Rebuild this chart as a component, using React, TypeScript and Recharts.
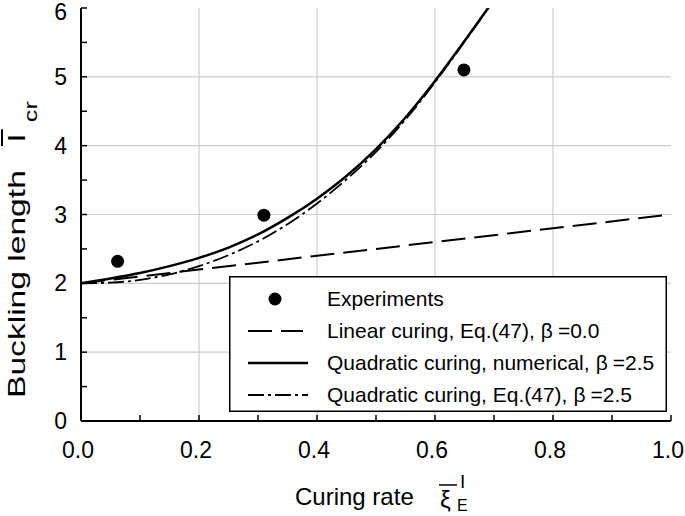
import React from 'react';
import {
  ComposedChart,
  Line,
  Scatter,
  XAxis,
  YAxis,
  CartesianGrid,
  Legend,
} from 'recharts';

// curing rate samples for the two quadratic curves
const curingRate = [0, 0.05, 0.1, 0.15, 0.2, 0.25, 0.3, 0.35, 0.4, 0.45, 0.5, 0.55, 0.6, 0.65, 0.7];
const quadNumerical = [2.0, 2.07, 2.15, 2.25, 2.37, 2.52, 2.71, 2.95, 3.23, 3.56, 3.95, 4.41, 4.94, 5.52, 6.12];
const quadEq47 = [2.0, 2.01, 2.05, 2.13, 2.25, 2.41, 2.61, 2.86, 3.16, 3.51, 3.91, 4.38, 4.92, 5.51, 6.12];

const linearX = [0, 1];
const linearY = [2, 3];

const expX = [0.062, 0.31, 0.649];
const expY = [2.32, 2.99, 5.1];

const xTicks = [0, 0.1, 0.2, 0.3, 0.4, 0.5, 0.6, 0.7, 0.8, 0.9, 1.0];
const xMajor = [0.2, 0.4, 0.6, 0.8];
const yTicks = [0, 0.5, 1, 1.5, 2, 2.5, 3, 3.5, 4, 4.5, 5, 5.5, 6];
const yMajor = [1, 2, 3, 4, 5];

const legendItems = [
  { kind: 'dot', label: 'Experiments', beta: '' },
  { kind: 'dash', label: 'Linear curing, Eq.(47),', beta: '0.0' },
  { kind: 'solid', label: 'Quadratic curing, numerical,', beta: '2.5' },
  { kind: 'dashdot', label: 'Quadratic curing, Eq.(47),', beta: '2.5' },
];

const FONT = '"Liberation Sans", Arial, sans-serif';
const DASH = '24 9';
const DASHDOT = '16 4 3 4';

const numData = curingRate.map((x, i) => ({ x, y: quadNumerical[i] }));
const eqData = curingRate.map((x, i) => ({ x, y: quadEq47[i] }));
const linData = linearX.map((x, i) => ({ x, y: linearY[i] }));
const expData = expX.map((x, i) => ({ x, y: expY[i] }));

const isMajor = (v: number, step: number) => Math.abs(v / step - Math.round(v / step)) < 1e-6;

const BottomTick = (p: any) => {
  const { x, y, payload } = p;
  const v = payload.value as number;
  return (
    <g>
      <line x1={x} x2={x} y1={y} y2={y - 6} stroke="#000" strokeWidth={1.5} />
      {isMajor(v, 0.2) && (
        <text x={x - 3} y={y + 37} textAnchor="middle" fontSize={23} fontFamily={FONT} fill="#000">
          {v.toFixed(1)}
        </text>
      )}
    </g>
  );
};

const TopTick = (p: any) => {
  const { x, y } = p;
  return <line x1={x} x2={x} y1={y} y2={y + 6} stroke="#000" strokeWidth={1.5} />;
};

const LeftTick = (p: any) => {
  const { x, y, payload } = p;
  const v = payload.value as number;
  return (
    <g>
      <line x1={x} x2={x + 6} y1={y} y2={y} stroke="#000" strokeWidth={1.5} />
      {isMajor(v, 1) && (
        <text x={x - 14} y={Math.max(y + 8, 20)} textAnchor="end" fontSize={23} fontFamily={FONT} fill="#000">
          {v}
        </text>
      )}
    </g>
  );
};

const RightTick = (p: any) => {
  const { x, y } = p;
  return <line x1={x} x2={x - 6} y1={y} y2={y} stroke="#000" strokeWidth={1.5} />;
};

const XTitle = (p: any) => {
  const { viewBox } = p;
  const cx = viewBox.x + viewBox.width / 2;
  return (
    <g fontFamily={FONT} fill="#000">
      <text x={cx - 81} y={505} fontSize={24}>Curing rate</text>
      <text x={cx + 64} y={508} fontSize={24}>ξ</text>
      <line x1={cx + 63} x2={cx + 81} y1={485} y2={485} stroke="#000" strokeWidth={1.5} />
      <text x={cx + 84} y={488} fontSize={19}>I</text>
      <text x={cx + 81} y={511} fontSize={16}>E</text>
    </g>
  );
};

const YTitle = () => (
  <g transform="translate(25, 398) rotate(-90) scale(1.4, 1)" fontFamily={FONT} fill="#000">
    <text x={0} y={0} fontSize={24}>Buckling length</text>
    <text x={183} y={0} fontSize={24}>l</text>
    <line x1={180} x2={192} y1={-23} y2={-23} stroke="#000" strokeWidth={2} />
    <text x={197} y={12} fontSize={18}>cr</text>
  </g>
);

const LegendBox = () => (
  <svg width={438} height={136} style={{ display: 'block' }}>
    <rect x={0.75} y={0.75} width={436.5} height={134.5} fill="#fff" stroke="#000" strokeWidth={1.5} />
    {legendItems.map((it, i) => {
      const cy = 23 + i * 32;
      const x0 = 19;
      const x1 = 79;
      return (
        <g key={it.kind}>
          {it.kind === 'dot' && <circle cx={46} cy={cy} r={6.5} fill="#000" />}
          {it.kind === 'dash' && (
            <line x1={x0} x2={x1 - 5} y1={cy} y2={cy} stroke="#000" strokeWidth={2} strokeDasharray={DASH} />
          )}
          {it.kind === 'solid' && <line x1={x0} x2={x1} y1={cy} y2={cy} stroke="#000" strokeWidth={2.5} />}
          {it.kind === 'dashdot' && (
            <line x1={x0} x2={x1} y1={cy} y2={cy} stroke="#000" strokeWidth={1.8} strokeDasharray={DASHDOT} />
          )}
          <text x={98} y={cy + 7} fontSize={21} fontFamily={FONT} fill="#000">
            {it.label}
            {it.beta && (
              <>
                <tspan dx={6}>β</tspan>
                <tspan dx={5}>=</tspan>
                <tspan>{it.beta}</tspan>
              </>
            )}
          </text>
        </g>
      );
    })}
  </svg>
);

export default function App() {
  return (
    <div style={{ position: 'absolute', left: 0, top: 0, background: '#fff' }}>
      <ComposedChart width={685} height={516} margin={{ top: 8, right: 14, left: 31, bottom: 65 }}>
        <CartesianGrid
          stroke="#cccccc"
          strokeWidth={1.2}
          verticalValues={xMajor}
          horizontalValues={yMajor}
        />
        <XAxis
          type="number"
          dataKey="x"
          domain={[0, 1]}
          ticks={xTicks}
          interval={0}
          allowDataOverflow
          height={30}
          tickSize={0}
          tickMargin={0}
          tickLine={false}
          axisLine={{ stroke: '#000', strokeWidth: 2 }}
          tick={<BottomTick />}
          label={<XTitle />}
        />
        <XAxis
          xAxisId="top"
          orientation="top"
          type="number"
          dataKey="x"
          domain={[0, 1]}
          ticks={xTicks}
          interval={0}
          allowDataOverflow
          height={0}
          tickSize={0}
          tickMargin={0}
          tickLine={false}
          axisLine={{ stroke: '#000', strokeWidth: 2 }}
          tick={<TopTick />}
        />
        <YAxis
          type="number"
          domain={[0, 6]}
          ticks={yTicks}
          interval={0}
          allowDataOverflow
          width={50}
          tickSize={0}
          tickMargin={0}
          tickLine={false}
          axisLine={{ stroke: '#000', strokeWidth: 2 }}
          tick={<LeftTick />}
          label={<YTitle />}
        />
        <YAxis
          yAxisId="right"
          orientation="right"
          type="number"
          domain={[0, 6]}
          ticks={yTicks}
          interval={0}
          allowDataOverflow
          width={0}
          tickSize={0}
          tickMargin={0}
          tickLine={false}
          axisLine={{ stroke: '#000', strokeWidth: 2 }}
          tick={<RightTick />}
        />
        <Line
          data={linData}
          dataKey="y"
          type="linear"
          stroke="#000"
          strokeWidth={2}
          strokeDasharray={DASH}
          dot={false}
          activeDot={false}
          isAnimationActive={false}
        />
        <Line
          data={eqData}
          dataKey="y"
          type="monotone"
          stroke="#000"
          strokeWidth={1.8}
          strokeDasharray={DASHDOT}
          dot={false}
          activeDot={false}
          isAnimationActive={false}
        />
        <Line
          data={numData}
          dataKey="y"
          type="monotone"
          stroke="#000"
          strokeWidth={2.5}
          dot={false}
          activeDot={false}
          isAnimationActive={false}
        />
        <Scatter
          data={expData}
          dataKey="y"
          fill="#000"
          shape={(p: any) => <circle cx={p.cx} cy={p.cy} r={6.5} fill="#000" />}
          isAnimationActive={false}
        />
        <Legend
          layout="horizontal"
          verticalAlign="middle"
          align="center"
          content={<LegendBox />}
          wrapperStyle={{ left: 229, top: 276, width: 438, height: 136 }}
        />
      </ComposedChart>
    </div>
  );
}
